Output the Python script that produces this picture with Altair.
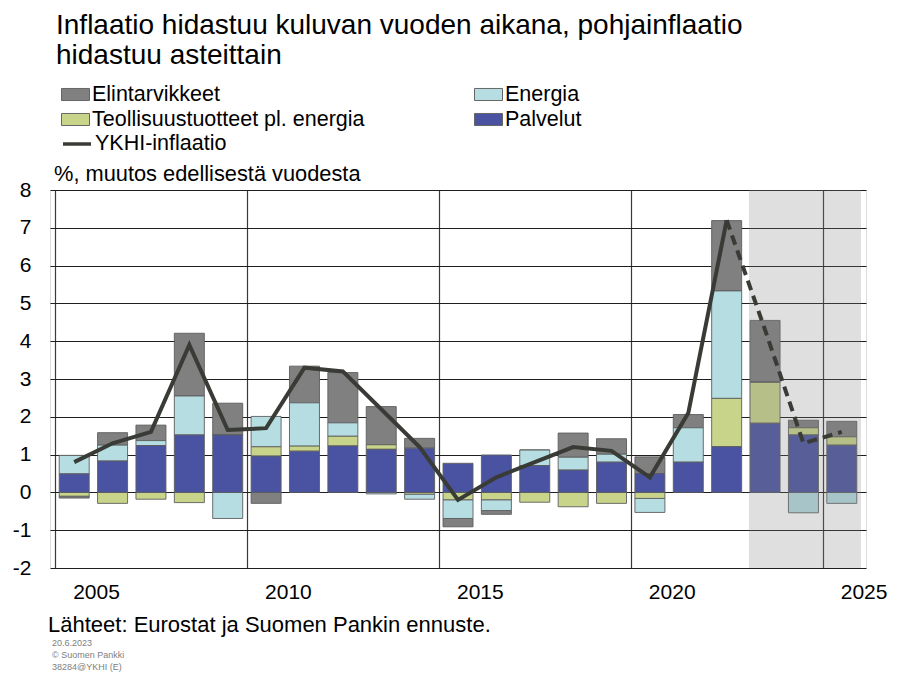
import altair as alt
import pandas as pd

FONT = "Liberation Sans"

# ---- data ----
years = list(range(2005, 2026))
palvelut = [0.49, 0.83, 1.24, 1.52, 1.52, 0.96, 1.09, 1.23, 1.14, 1.17, 0.77,
            0.99, 0.71, 0.59, 0.80, 0.50, 0.80, 1.21, 1.83, 1.52, 1.25]
teollisuus = [-0.10, -0.29, -0.18, -0.27, 0.00, 0.25, 0.14, 0.26, 0.12, -0.05, -0.20,
              -0.20, -0.26, -0.38, -0.29, -0.16, 0.00, 1.28, 1.09, 0.19, 0.22]
energia = [0.49, 0.42, 0.13, 1.03, -0.69, 0.80, 1.14, 0.35, -0.04, -0.13, -0.49,
           -0.28, 0.41, 0.34, 0.21, -0.37, 0.91, 2.84, 0.00, -0.54, -0.29]
elintarvikkeet = [-0.05, 0.33, 0.41, 1.66, 0.84, -0.29, 0.97, 1.33, 1.01, 0.26, -0.22,
                  -0.10, 0.00, 0.64, 0.41, 0.44, 0.35, 1.86, 1.63, 0.20, 0.41]
ykhi = [0.8, 1.3, 1.6, 3.9, 1.65, 1.7, 3.3, 3.2, 2.2, 1.2, -0.2,
        0.4, 0.8, 1.2, 1.1, 0.4, 2.1, 7.2, 4.3, 1.3, 1.6]
last_actual_year = 2022
forecast_years = [2023, 2024, 2025]

# legend order (column-major in a 2-column legend)
components = ["Elintarvikkeet", "Teollisuustuotteet pl. energia", "Energia", "Palvelut"]
colors = ["#808080", "#c9d48b", "#b5dde2", "#4a53a1"]
stack_rank = {"Palvelut": 0, "Teollisuustuotteet pl. energia": 1, "Energia": 2, "Elintarvikkeet": 3}
series_by_name = {
    "Elintarvikkeet": elintarvikkeet,
    "Energia": energia,
    "Teollisuustuotteet pl. energia": teollisuus,
    "Palvelut": palvelut,
}

rows = []
for i, yr in enumerate(years):
    for name in components:
        rows.append({"year": yr, "component": name,
                     "value": series_by_name[name][i], "rank": stack_rank[name]})
bars_df = pd.DataFrame(rows)
line_df = pd.DataFrame({"year": years, "value": ykhi, "series": "YKHI-inflaatio"})
shade_df = pd.DataFrame({"start": [forecast_years[0] - 0.42], "end": [forecast_years[-1] + 0.5]})

W, H = 816, 378
xscale = alt.Scale(domain=[2004.5, 2025.5], nice=False, zero=False)
yscale = alt.Scale(domain=[-2, 8], nice=False, zero=False)

x_axis = alt.Axis(values=[2004.5, 2009.5, 2014.5, 2019.5, 2024.5],
                  labelExpr="(datum.value + 0.5) + ''", labelOffset=41,
                  labelFlush=False, labelOverlap=False, labelFontSize=21,
                  labelFont=FONT, labelColor="black", labelPadding=13,
                  ticks=False, domain=False, grid=True, gridColor="#3a3a3a",
                  gridWidth=1.2, title=None)
y_axis = alt.Axis(values=[-2, -1, 0, 1, 2, 3, 4, 5, 6, 7, 8], tickCount=11,
                  labelExpr="datum.value + ''", labelOverlap=False,
                  labelFontSize=21, labelFont=FONT, labelColor="black",
                  labelPadding=19, ticks=False, domain=False, grid=True,
                  gridColor="#1e1e1e", gridWidth=1.2, title=None)

bars = alt.Chart(bars_df).mark_bar(size=30, stroke="#5e5e5e", strokeWidth=0.9).encode(
    x=alt.X("year:Q", scale=xscale, axis=x_axis),
    y=alt.Y("value:Q", scale=yscale, axis=y_axis, stack="zero"),
    fill=alt.Fill("component:N",
                  scale=alt.Scale(domain=components, range=colors),
                  legend=alt.Legend(orient="none", legendX=11, legendY=-110,
                                    columns=2, title=None, labelFontSize=21.5,
                                    labelFont=FONT, labelColor="black", labelLimit=500,
                                    symbolType="M-1,-0.43H1V0.43H-1Z", symbolSize=784,
                                    symbolStrokeColor="#666666", symbolStrokeWidth=1,
                                    symbolOpacity=1, labelOffset=2,
                                    columnPadding=107, rowPadding=-1)),
    order=alt.Order("rank:Q"),
)

shade = alt.Chart(shade_df).mark_rect(color="#808080", opacity=0.25).encode(
    x=alt.X("start:Q", scale=xscale),
    x2="end:Q",
    y=alt.value(0),
    y2=alt.value(H),
)

stroke_enc = alt.Stroke("series:N", scale=alt.Scale(range=["#393b36"]),
                        legend=alt.Legend(orient="none", legendX=11, legendY=-62,
                                          title=None, labelFontSize=21.5, labelFont=FONT,
                                          labelColor="black", labelLimit=500,
                                          symbolType="stroke",
                                          symbolSize=784, symbolStrokeWidth=3.5,
                                          labelOffset=2))

line_actual = alt.Chart(line_df).transform_filter(
    alt.datum.year <= last_actual_year
).mark_line(strokeWidth=4, strokeJoin="miter").encode(
    x=alt.X("year:Q", scale=xscale),
    y=alt.Y("value:Q", scale=yscale),
    stroke=stroke_enc,
)
line_fc = alt.Chart(line_df).transform_filter(
    alt.datum.year >= last_actual_year
).mark_line(strokeWidth=4, strokeDash=[10, 6]).encode(
    x=alt.X("year:Q", scale=xscale),
    y=alt.Y("value:Q", scale=yscale),
    stroke=stroke_enc,
)


def txt(text, x, y, size, color="black"):
    return alt.Chart(alt.Data(values=[{}])).mark_text(
        align="left", baseline="alphabetic", fontSize=size, font=FONT, color=color
    ).encode(x=alt.value(x), y=alt.value(y), text=alt.value(text))


texts = [
    txt("Inflaatio hidastuu kuluvan vuoden aikana, pohjainflaatio", 6, -156, 28),
    txt("hidastuu asteittain", 6, -126, 28),
    txt("%, muutos edellisestä vuodesta", 4, -9, 21.8),
    txt("Lähteet: Eurostat ja Suomen Pankin ennuste.", -2, 442, 22),
    txt("20.6.2023", 2, 456, 9, "#808080"),
    txt("© Suomen Pankki", 2, 468, 9, "#808080"),
    txt("38284@YKHI (E)", 2, 480, 9, "#808080"),
]

chart = alt.layer(bars, shade, line_actual, line_fc, *texts).resolve_scale(
    stroke="shared"
).properties(
    width=W, height=H,
    autosize=alt.AutoSizeParams(type="none"),
    padding={"left": 42, "top": 182, "right": 26, "bottom": 112},
).configure_view(stroke="#8a8a8a", strokeWidth=1.2).configure(font=FONT)

chart.save("out.html", embed_options={"renderer": "svg", "actions": False})
